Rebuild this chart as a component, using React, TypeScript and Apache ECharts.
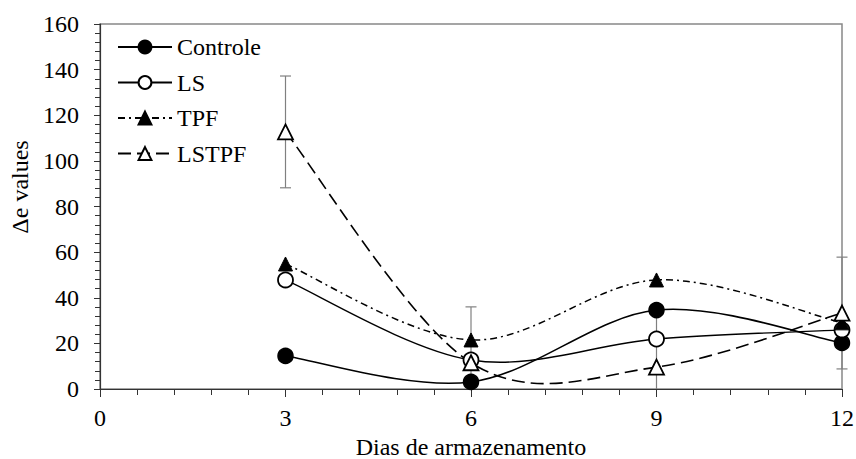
import React, { useEffect, useRef } from "react";
import * as echarts from "echarts";

const days = [3, 6, 9, 12];
const controle = [14.5, 3.1, 34.6, 20.2];
const ls = [47.8, 12.7, 21.9, 25.9];
const tpf = [54.8, 21.5, 47.8, 29.0];
const lstpf = [112.7, 11.5, 9.6, 33.3];
const lstpfErr = [24.5, 24.5, 24.5, 24.5];
const seriesNames = ["Controle", "LS", "TPF", "LSTPF"];

const FONT = "'Liberation Serif', 'Times New Roman', serif";
const Y_MIN = 0;
const Y_MAX = 160;

// Excel-style (Catmull-Rom) smoothed curve through pixel points
const SmoothCurve = (echarts.graphic as any).extendShape({
  shape: { points: [] as number[][] },
  buildPath(ctx: any, shape: any) {
    const p = shape.points as number[][];
    if (!p || p.length < 2) return;
    ctx.moveTo(p[0][0], p[0][1]);
    for (let i = 0; i < p.length - 1; i++) {
      const p0 = p[i - 1] || p[i];
      const p1 = p[i];
      const p2 = p[i + 1];
      const p3 = p[i + 2] || p[i + 1];
      const c1x = p1[0] + (p2[0] - p0[0]) / 6;
      const c1y = p1[1] + (p2[1] - p0[1]) / 6;
      const c2x = p2[0] - (p3[0] - p1[0]) / 6;
      const c2y = p2[1] - (p3[1] - p1[1]) / 6;
      ctx.bezierCurveTo(c1x, c1y, c2x, c2y, p2[0], p2[1]);
    }
  },
});
(echarts.graphic as any).registerShape("smoothCurve", SmoothCurve);

export default function App() {
  const ref = useRef<HTMLDivElement>(null);
  useEffect(() => {
    if (!ref.current) return;
    const chart = echarts.init(ref.current, undefined, { renderer: "svg" });
    const pair = (vals: number[]) => days.map((d, i) => [d, vals[i]]);

    const curveSeries = (name: string, vals: number[], z: number, width: number, dash: any) => ({
      type: "custom",
      name: name + "-curve",
      z,
      silent: true,
      data: pair(vals),
      encode: { x: 0, y: 1 },
      renderItem: (params: any, api: any) => {
        if (params.dataIndex !== 0) return null;
        const pts = days.map((d, i) => api.coord([d, vals[i]]));
        return {
          type: "smoothCurve",
          shape: { points: pts },
          style: { fill: "none", stroke: "#000", lineWidth: width, lineDash: dash },
        };
      },
    });

    const markerSeries = (
      name: string,
      vals: number[],
      z: number,
      symbol: string,
      size: number,
      fill: string,
      bw: number,
      width: number,
      dash: any
    ) => ({
      type: "line",
      name,
      z,
      data: pair(vals),
      symbol,
      symbolSize: size,
      showSymbol: true,
      itemStyle: { color: fill, borderColor: "#000", borderWidth: bw },
      lineStyle: { color: "#000", width, type: dash, opacity: 0 },
    });

    chart.setOption({
      animation: false,
      backgroundColor: "#ffffff",
      textStyle: { fontFamily: FONT },
      grid: {
        left: 100,
        right: 14,
        top: 24,
        bottom: 70,
        show: true,
        borderColor: "#888888",
        borderWidth: 1.5,
        containLabel: false,
        outerBoundsMode: "none",
      },
      legend: {
        data: seriesNames,
        orient: "vertical",
        left: 112,
        top: 30,
        itemWidth: 54,
        itemHeight: 16,
        itemGap: 11.5,
        lineStyle: { opacity: 1 },
        selectedMode: false,
        textStyle: { fontFamily: FONT, fontSize: 24, color: "#000" },
      },
      graphic: [
        {
          type: "text",
          x: 20,
          y: 187,
          rotation: Math.PI / 2,
          style: {
            text: "Δe values",
            fontFamily: FONT,
            fontSize: 24,
            fill: "#000",
            align: "center",
            verticalAlign: "middle",
          },
        },
      ],
      xAxis: {
        type: "value",
        min: 0,
        max: 12,
        interval: 3,
        name: "Dias de armazenamento",
        nameLocation: "middle",
        nameGap: 40,
        nameTextStyle: { fontFamily: FONT, fontSize: 24, color: "#000" },
        axisLine: { lineStyle: { color: "#333", width: 1.2 } },
        axisTick: { show: true, length: 8, lineStyle: { color: "#333" } },
        minorTick: { show: true, splitNumber: 5, length: 6, lineStyle: { color: "#333" } },
        splitLine: { show: false },
        axisLabel: { fontFamily: FONT, fontSize: 24, color: "#000", margin: 17 },
      },
      yAxis: {
        type: "value",
        min: Y_MIN,
        max: Y_MAX,
        interval: 20,
        axisLine: { show: true, lineStyle: { color: "#333", width: 1.2 } },
        axisTick: { show: true, length: 6, lineStyle: { color: "#333" } },
        minorTick: { show: true, splitNumber: 5, length: 5, lineStyle: { color: "#333" } },
        splitLine: { show: false },
        axisLabel: { fontFamily: FONT, fontSize: 24, color: "#000", margin: 21 },
      },
      series: [
        {
          type: "custom",
          name: "err",
          z: 1,
          silent: true,
          data: days.map((d, i) => [d, lstpf[i], lstpfErr[i]]),
          encode: { x: 0, y: 1 },
          renderItem: (params: any, api: any) => {
            const x = api.value(0);
            const y = api.value(1);
            const e = api.value(2);
            const hiRaw = y + e;
            const loRaw = y - e;
            const hi = Math.min(hiRaw, Y_MAX);
            const lo = Math.max(loRaw, Y_MIN);
            const pT = api.coord([x, hi]);
            const pB = api.coord([x, lo]);
            const style = { stroke: "#808080", lineWidth: 1.2 };
            const children: any[] = [
              { type: "line", shape: { x1: pT[0], y1: pT[1], x2: pB[0], y2: pB[1] }, style },
            ];
            const cap = 5.5;
            if (hi === hiRaw) {
              children.push({ type: "line", shape: { x1: pT[0] - cap, y1: pT[1], x2: pT[0] + cap, y2: pT[1] }, style });
            }
            if (lo === loRaw) {
              children.push({ type: "line", shape: { x1: pB[0] - cap, y1: pB[1], x2: pB[0] + cap, y2: pB[1] }, style });
            }
            return { type: "group", children };
          },
        },
        curveSeries("Controle", controle, 2, 1.6, null),
        curveSeries("LS", ls, 3, 1.4, null),
        curveSeries("TPF", tpf, 4, 1.5, [7, 4, 2, 4]),
        curveSeries("LSTPF", lstpf, 5, 1.6, [13, 6]),
        markerSeries("Controle", controle, 6, "circle", 15, "#000", 1.5, 1.6, "solid"),
        markerSeries("LS", ls, 7, "circle", 15, "#fff", 1.8, 1.4, "solid"),
        markerSeries("TPF", tpf, 8, "triangle", 14, "#000", 1, 1.5, [7, 4, 2, 4]),
        markerSeries("LSTPF", lstpf, 9, "triangle", 15, "#fff", 1.8, 1.6, [13, 6]),
      ],
    });
    return () => chart.dispose();
  }, []);
  return <div ref={ref} style={{ width: 856, height: 459, position: "fixed", left: 0, top: 0 }} />;
}
